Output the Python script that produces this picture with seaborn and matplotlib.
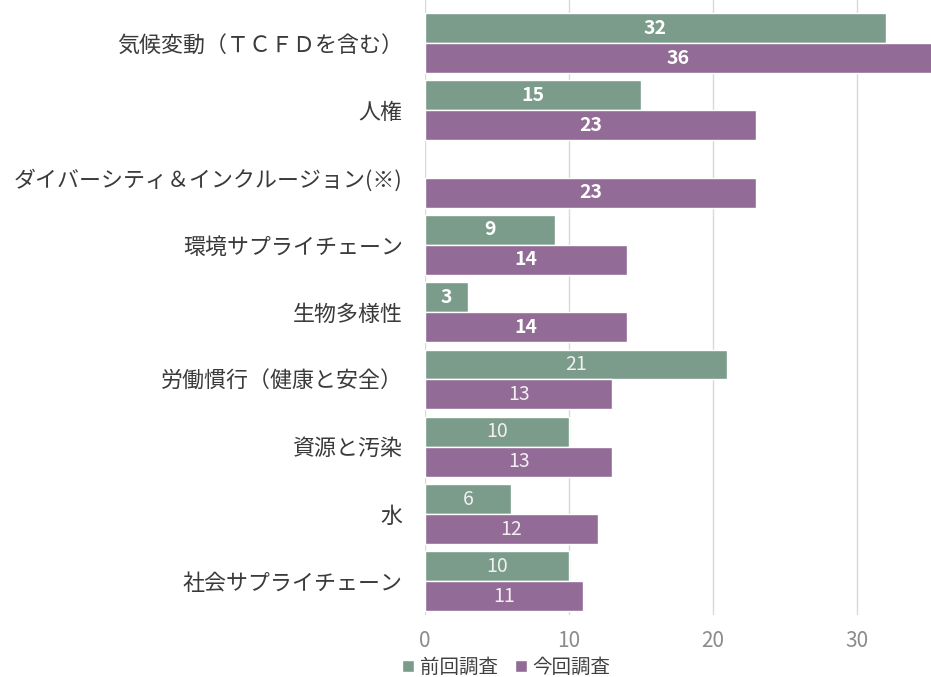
import numpy as np
import pandas as pd
import matplotlib
matplotlib.use("Agg")
import matplotlib.pyplot as plt
import seaborn as sns

categories = ["気候変動（ＴＣＦＤを含む）", "人権", "ダイバーシティ＆インクルージョン(※)",
              "環境サプライチェーン", "生物多様性", "労働慣行（健康と安全）",
              "資源と汚染", "水", "社会サプライチェーン"]
prev_vals = [32, 15, np.nan, 9, 3, 21, 10, 6, 10]
curr_vals = [36, 23, 23, 14, 14, 13, 13, 12, 11]
series = ["前回調査", "今回調査"]
xticks = [0, 10, 20, 30]

sns.set_theme(style="white")
plt.rcParams['font.family'] = ['Noto Sans CJK JP', 'DejaVu Sans']

df = pd.DataFrame({
    "cat": categories * 2,
    "val": prev_vals + curr_vals,
    "series": [series[0]] * len(categories) + [series[1]] * len(categories),
})

colors = {"前回調査": "#7b9c8b", "今回調査": "#926b96"}

fig = plt.figure(figsize=(9.31, 6.77), dpi=100)
ax = fig.add_axes([425/931, 1 - 615/677, 1 - 425/931, 615/677])

sns.barplot(data=df, y="cat", x="val", hue="series", hue_order=series,
            order=categories, palette=colors, orient="h", width=0.89,
            saturation=1, ax=ax, legend=True, errorbar=None)

ax.set_xlim(0, 35.14)
ax.set_ylim(8.5, -0.64)
ax.set_xticks(xticks)
ax.set_xticklabels([str(t) for t in xticks])
ax.xaxis.grid(True, color="#d9d9d9", linewidth=1)
ax.set_axisbelow(True)
for s in ax.spines.values():
    s.set_visible(False)
ax.set_xlabel("")
ax.set_ylabel("")
ax.tick_params(axis="x", colors="#8c8c8c", labelsize=15, length=0, pad=11)
ax.tick_params(axis="y", colors="#3a3a3a", labelsize=15.8, length=0, pad=16)

for cont in ax.containers:
    labels = []
    idxs = []
    for bar in cont:
        w = bar.get_width()
        idx = int(round(bar.get_y() + bar.get_height() / 2))
        idxs.append(idx)
        labels.append("" if np.isnan(w) else f"{int(round(w))}")
    texts = ax.bar_label(cont, labels=labels, label_type="center",
                         color="white", fontsize=14)
    for t, idx in zip(texts, idxs):
        if idx <= 4:
            t.set_fontweight("bold")
        else:
            t.set_color("#f2eef2")

leg = ax.legend(loc="upper left", bbox_to_anchor=(-0.045, -0.068), ncol=2,
                frameon=False, fontsize=14, handlelength=0.6, handleheight=0.6,
                handletextpad=0.3, columnspacing=0.9, borderaxespad=0,
                borderpad=0)
for t in leg.get_texts():
    t.set_color("#404040")

fig.savefig("out.png", dpi=100)
